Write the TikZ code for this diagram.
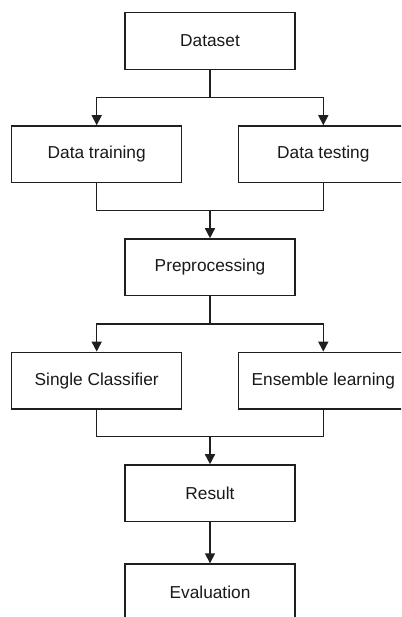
\documentclass[tikz,border=0pt]{standalone}
\usepackage{fontspec}
\setmainfont{Liberation Sans}
\usetikzlibrary{arrows.meta}
\begin{document}
\begin{tikzpicture}[x=1pt,y=-1pt,
  box/.style={draw=black!88, line width=1.5pt, rectangle, minimum width=170pt, minimum height=56.7pt,
    inner sep=0pt, font=\fontsize{17.3}{20}\selectfont, text=black!90},
  conn/.style={draw=black!88, line width=1.5pt},
  arr/.style={conn, -{Triangle[width=10pt,length=10pt]}}]
\useasboundingbox (0,0) rectangle (401,617);
\clip (0,0) rectangle (401,617);
\fill[white] (0,0) rectangle (401,617);
\node[box] (ds) at (210,41) {Dataset};
\node[box] (train) at (96.7,154.3) {Data training};
\node[box] (test) at (323.3,154.3) {Data testing};
\node[box] (pre) at (210,267.3) {Preprocessing};
\node[box] (single) at (96.7,380.7) {Single Classifier};
\node[box] (ens) at (323.3,380.7) {Ensemble learning};
\node[box] (res) at (210,493.3) {Result};
\node[box] (eval) at (210,592.4) {Evaluation};
\coordinate (j1) at (210,97.3);
\coordinate (j2) at (210,210.7);
\coordinate (j3) at (210,324);
\coordinate (j4) at (210,436.7);
\draw[conn] (ds) -- (j1);
\draw[arr] (j1) -| (train);
\draw[arr] (j1) -| (test);
\draw[conn] (train) |- (j2) -| (test);
\draw[arr] (j2) -- (pre);
\draw[conn] (pre) -- (j3);
\draw[arr] (j3) -| (single);
\draw[arr] (j3) -| (ens);
\draw[conn] (single) |- (j4) -| (ens);
\draw[arr] (j4) -- (res);
\draw[arr] (res) -- (eval);
\end{tikzpicture}
\end{document}
